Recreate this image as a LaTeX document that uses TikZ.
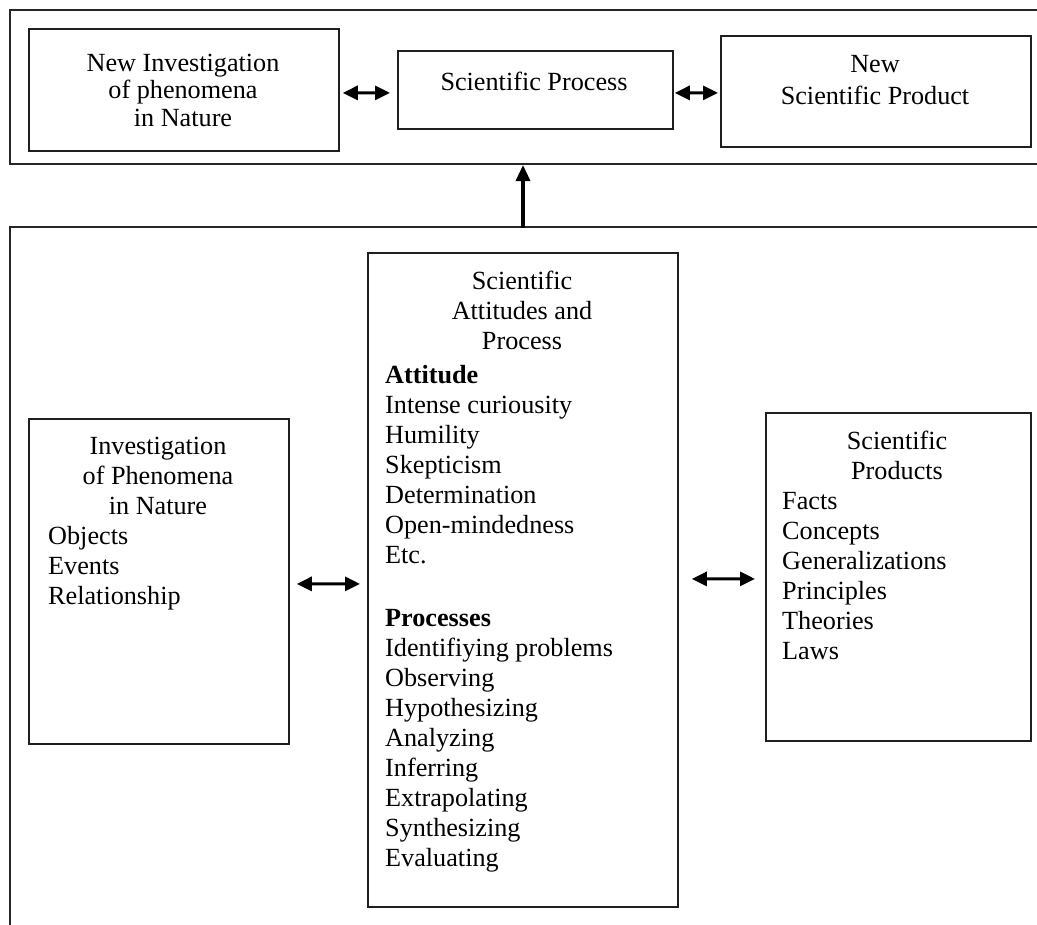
\documentclass[tikz,border=0pt]{standalone}
\usepackage{fontspec}
\setmainfont{Liberation Serif}
\usetikzlibrary{arrows.meta,calc}
\begin{document}
\begin{tikzpicture}[x=1bp,y=-1bp,
  box/.style={draw=black!88, line width=1.8bp, inner sep=0pt, anchor=north west},
  frameline/.style={draw=black!85, line width=2.8bp},
  head/.style={inner sep=0pt, anchor=base, align=center},
  list/.style={inner sep=0pt, anchor=base west, align=left},
  big/.style={font=\fontsize{26.3}{30}\selectfont},
  topf/.style={font=\fontsize{26.3}{27.5}\selectfont},
  dbl/.style={line width=3bp, {Triangle[length=15bp,width=14bp]}-{Triangle[length=15bp,width=14bp]}},
  uparrow/.style={line width=3.2bp, -{Triangle[length=16bp,width=14bp]}}]
\useasboundingbox (0,0) rectangle (1037,925);

% frames
\coordinate (tfTR) at (1037,10);
\coordinate (tfTL) at (10,10);
\coordinate (tfBL) at (10,164);
\coordinate (tfBR) at (1037,164);
\coordinate (tfS) at (523,165);
\draw[frameline] (tfTR) -- (tfTL) -- (tfBL) -- (tfBR);
\coordinate (bfTR) at (1037,227);
\coordinate (bfTL) at (10,227);
\coordinate (bfBL) at (10,925);
\coordinate (bfN) at (523,228);
\draw[frameline] (bfTR) -- (bfTL) -- (bfBL);

% top boxes
\node[box, minimum width=310bp, minimum height=122bp] (b1) at (28,28) {};
\node[box, minimum width=275bp, minimum height=78bp] (b2) at (397,50) {};
\node[box, minimum width=310bp, minimum height=111bp] (b3) at (720,35) {};

% base anchor = baseline of the last line
\node[head, topf] (b1t) at (183,126) {New Investigation\\of phenomena\\in Nature};
\node[head, topf] (b2t) at (534,90) {Scientific Process};
\node[head, font=\fontsize{26.3}{32}\selectfont] (b3t) at (875,104) {New\\Scientific Product};

\draw[dbl] ([shift={(3,3)}]b1.east) -- ([shift={(-7,3)}]b2.west);
\draw[dbl] ([shift={(1,3)}]b2.east) -- ([shift={(-2,1.5)}]b3.west);
\draw[uparrow] (bfN) -- (tfS);

% bottom boxes
\node[box, minimum width=260bp, minimum height=325bp] (lb) at (28,418) {};
\node[box, minimum width=310bp, minimum height=654bp] (mb) at (367,252) {};
\node[box, minimum width=265bp, minimum height=328bp] (rb) at (765,412) {};

\node[head, big] (lbh) at (158,514) {Investigation\\of Phenomena\\in Nature};
\node[list, big] (lbl) at (48,604) {Objects\\Events\\Relationship};

\node[head, big] (mbh) at (522,349) {Scientific\\Attitudes and\\Process};
\node[list, big] (mbl) at (385,866) {\textbf{Attitude}\\Intense curiousity\\Humility\\Skepticism\\Determination\\Open-mindedness\\Etc.\\[34bp]\textbf{Processes}\\Identifiying problems\\Observing\\Hypothesizing\\Analyzing\\Inferring\\Extrapolating\\Synthesizing\\Evaluating};

\node[head, big] (rbh) at (897,479) {Scientific\\Products};
\node[list, big] (rbl) at (782,659) {Facts\\Concepts\\Generalizations\\Principles\\Theories\\Laws};

\draw[dbl] ([shift={(7,2.5)}]lb.east) -- ([shift={(-7,4)}]mb.west);
\draw[dbl] ([shift={(13,-1)}]mb.east) -- ([shift={(-10,2)}]rb.west);
\end{tikzpicture}
\end{document}
